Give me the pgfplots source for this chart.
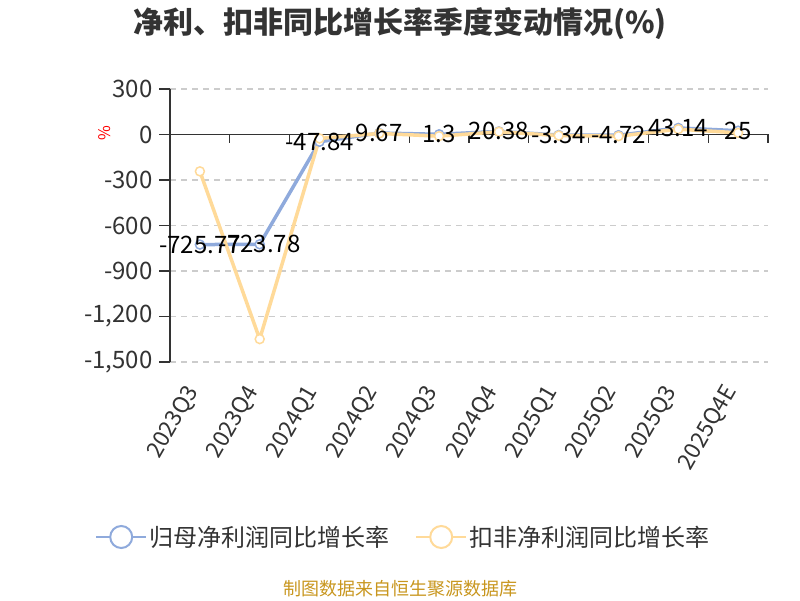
\documentclass[border=0pt]{standalone}
\usepackage{pgfplots}
\pgfplotsset{compat=1.18}
\usepackage{fontspec}
\setmainfont{Noto Sans CJK SC}
\definecolor{cblue}{HTML}{8FAADC}
\definecolor{cyel}{HTML}{FFDA99}
\definecolor{ctext}{HTML}{333333}
\definecolor{cgrid}{HTML}{CCCCCC}
\definecolor{cfoot}{HTML}{C8961E}
\begin{document}
\begin{tikzpicture}[x=1pt,y=1pt]
\path[use as bounding box] (0,0) rectangle (800,600);
\node[font=\fontsize{30}{32}\selectfont\bfseries, text=ctext] at (400,576) {净利、扣非同比增长率季度变动情况(\%)};
\node[font=\fontsize{18}{20}\selectfont, text=cfoot] at (400,11) {制图数据来自恒生聚源数据库};
\node[font=\fontsize{16}{16}\selectfont, text=red, rotate=90] at (105,467) {\%};
\begin{axis}[
  at={(170pt,238pt)}, anchor=south west, scale only axis,
  width=598pt, height=273pt,
  xmin=-0.5, xmax=9.5, ymin=-1500, ymax=300,
  clip=false,
  axis lines*=left,
  x axis line style={draw=none},
  y axis line style={ctext, line width=1.5pt},
  xtick={0,1,2,3,4,5,6,7,8,9},
  xticklabels={2023Q3,2023Q4,2024Q1,2024Q2,2024Q3,2024Q4,2025Q1,2025Q2,2025Q3,2025Q4E},
  x tick label style={xshift=-5pt, yshift=-12pt, rotate=60, anchor=east, font=\fontsize{22.5}{24}\selectfont, text=ctext},
  xtick style={draw=none},
  ytick={-1500,-1200,-900,-600,-300,0,300},
  yticklabels={{-1,500},{-1,200},-900,-600,-300,0,300},
  y tick label style={font=\fontsize{24}{24}\selectfont, text=ctext, xshift=-3pt},
  ytick style={ctext, line width=1.2pt},
  tick align=outside, major tick length=11pt,
  ymajorgrids,
  grid style={cgrid, line width=1.2pt, dash pattern=on 6pt off 5pt},
  legend style={at={(0.39,-0.641)}, anchor=center, draw=none, fill=none,
    font=\fontsize{24}{24}\selectfont, text=ctext,
    /tikz/every even column/.append style={column sep=24pt}},
  legend columns=2,
  legend cell align=left,
  legend image code/.code={
    \draw[#1, line width=2pt] (0pt,0pt) -- (50pt,0pt);
    \draw[#1, line width=2pt, fill=white] (25pt,0pt) circle (11pt);
  },
]
\draw[ctext, line width=1.5pt] (axis cs:-0.5,0) -- (axis cs:9.5,0);
\pgfplotsinvokeforeach{-0.5,0.5,1.5,2.5,3.5,4.5,5.5,6.5,7.5,8.5,9.5}{
  \draw[ctext, line width=1.2pt] (axis cs:#1,0) -- ([yshift=-9pt]axis cs:#1,0);
}
\addplot[cblue, line width=3.5pt, mark=*, mark size=4.5pt, mark options={fill=white, draw=cblue, line width=1.5pt}]
  coordinates {(0,-725.77) (1,-723.78) (2,-47.84) (3,9.67) (4,1.3) (5,20.38) (6,-3.34) (7,-4.72) (8,43.14) (9,25)};
\addlegendentry{归母净利润同比增长率}
\addplot[cyel, line width=3.5pt, mark=*, mark size=4.5pt, mark options={fill=white, draw=cyel, line width=1.5pt}]
  coordinates {(0,-243) (1,-1349) (2,-26) (3,7) (4,-11) (5,18) (6,-7) (7,-11) (8,35) (9,11)};
\addlegendentry{扣非净利润同比增长率}
\addplot[draw=none, no markers, forget plot, nodes near coords, point meta=explicit symbolic,
  every node near coord/.append style={anchor=center, font=\fontsize{24}{24}\selectfont, text=black}]
  coordinates {(0,-725.77) [-725.77] (1,-723.78) [-723.78] (2,-47.84) [-47.84] (3,9.67) [9.67] (4,1.3) [1.3] (5,20.38) [20.38] (6,-3.34) [-3.34] (7,-4.72) [-4.72] (8,43.14) [43.14] (9,25) [25]};
\end{axis}
\end{tikzpicture}
\end{document}
